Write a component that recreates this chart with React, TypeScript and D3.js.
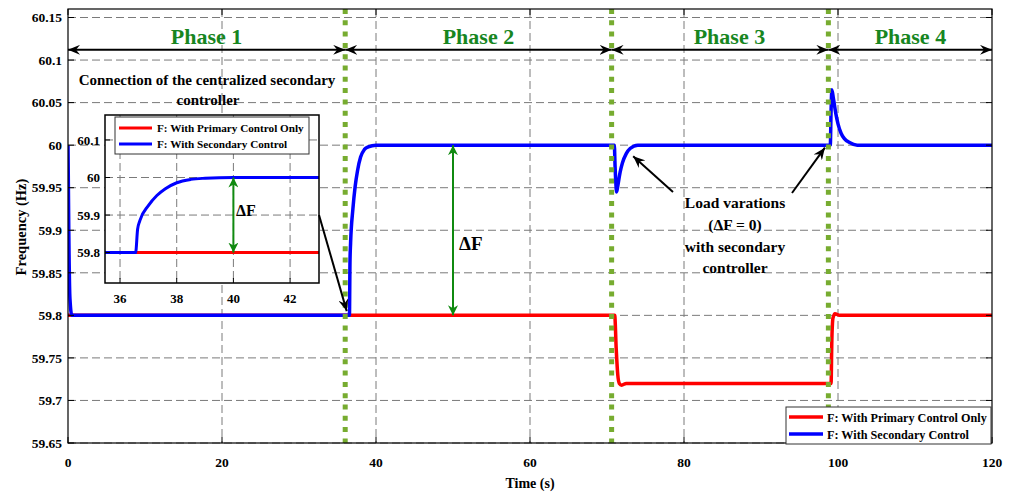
import React from 'react';
import * as d3 from 'd3';

const W = 1013, H = 493;

// ---------------- data ----------------
const xTicks = [0, 20, 40, 60, 80, 100, 120];
const yTicks = [59.65, 59.7, 59.75, 59.8, 59.85, 59.9, 59.95, 60, 60.05, 60.1, 60.15];
const yTickLabels = ['59.65', '59.7', '59.75', '59.8', '59.85', '59.9', '59.95', '60', '60.05', '60.1', '60.15'];

const primaryTime = [0, 71.0, 71.2, 71.4, 71.6, 71.9, 72.5, 99.1, 99.2, 99.35, 99.6, 100.2, 120];
const primaryFreq = [59.8, 59.8, 59.76, 59.73, 59.72, 59.718, 59.72, 59.72, 59.77, 59.797, 59.802, 59.8, 59.8];

const secondaryTime = [0, 0.1, 0.25, 0.5, 36.55, 36.62, 36.7, 37.0, 37.3, 37.6, 38.0, 38.5, 39.0, 40.0,
  70.95, 71.05, 71.15, 71.25, 71.4, 71.7, 72.0, 72.5, 73.0, 74.0,
  99.0, 99.1, 99.2, 99.4, 99.7, 100.0, 100.4, 100.8, 101.5, 102.5, 120];
const secondaryFreq = [60.0, 59.9, 59.82, 59.8, 59.8, 59.862, 59.885, 59.925, 59.952, 59.97, 59.986, 59.995, 59.998, 60.0,
  60.0, 59.975, 59.955, 59.945, 59.952, 59.968, 59.979, 59.99, 59.996, 60.0,
  60.0, 60.04, 60.065, 60.055, 60.038, 60.025, 60.014, 60.008, 60.003, 60.0, 60.0];

const phaseBounds = [0, 36, 70.6, 98.75, 120];
const phaseLabels = ['Phase 1', 'Phase 2', 'Phase 3', 'Phase 4'];
const phaseLabelTime = [18, 53.3, 85.9, 109.4];
const phaseArrowFreq = 60.112;

const insetXTicks = [36, 38, 40, 42];
const insetYTicks = [59.8, 59.9, 60, 60.1];
const insetYTickLabels = ['59.8', '59.9', '60', '60.1'];

const legendLabels = ['F: With Primary Control Only', 'F: With Secondary Control'];

// ---------------- style ----------------
const FONT = '"Liberation Serif", "Times New Roman", serif';
const RED = '#ff0000';
const BLUE = '#0000ff';
const PHASE_GREEN = '#17861f';
const DOT_GREEN = '#77ac30';
const GRID = '#7a7a7a';

export default function App() {
  const x = d3.scaleLinear().domain([0, 120]).range([68, 992]);
  const y = d3.scaleLinear().domain([59.65, 60.16]).range([443, 9]);

  const primary = primaryTime.map((t, i) => [t, primaryFreq[i]] as [number, number]);
  const secondary = secondaryTime.map((t, i) => [t, secondaryFreq[i]] as [number, number]);

  const line = d3.line<[number, number]>().x(d => x(d[0])).y(d => y(d[1])).curve(d3.curveMonotoneX);

  // inset
  const ix = d3.scaleLinear().domain([35.47, 43.02]).range([105, 319]);
  const iy = d3.scaleLinear().domain([59.719, 60.1665]).range([283, 115]);
  const iline = d3.line<[number, number]>().x(d => ix(d[0])).y(d => iy(d[1])).curve(d3.curveMonotoneX);

  const [x0, x1] = x.range();
  const [yb, yt] = y.range();
  const [ix0, ix1] = ix.range();
  const [iyb, iyt] = iy.range();

  const bold = { fontFamily: FONT, fontWeight: 700 } as const;

  return (
    <svg width={W} height={H} style={{ position: 'absolute', left: 0, top: 0, background: '#fff' }}>
      <defs>
        <marker id="ahBlack" viewBox="0 0 12 10" refX="12" refY="5" markerWidth="12" markerHeight="10"
          markerUnits="userSpaceOnUse" orient="auto-start-reverse">
          <path d="M0,0 L12,5 L0,10 L4,5 z" fill="#000" />
        </marker>
        <marker id="ahGreen" viewBox="0 0 10 10" refX="10" refY="5" markerWidth="10" markerHeight="10"
          markerUnits="userSpaceOnUse" orient="auto-start-reverse">
          <path d="M0,0 L10,5 L0,10 L3,5 z" fill="#108a10" />
        </marker>
        <clipPath id="mainClip"><rect x={x0} y={yt} width={x1 - x0} height={yb - yt} /></clipPath>
        <clipPath id="insetClip"><rect x={ix0} y={iyt} width={ix1 - ix0} height={iyb - iyt} /></clipPath>
      </defs>

      {/* grid */}
      {xTicks.slice(1, -1).map(t => (
        <line key={'gx' + t} x1={x(t)} x2={x(t)} y1={yt} y2={yb} stroke={GRID} strokeDasharray="8,4" strokeWidth={1} />
      ))}
      {yTicks.map(v => (
        <line key={'gy' + v} x1={x0} x2={x1} y1={y(v)} y2={y(v)} stroke={GRID} strokeDasharray="8,4" strokeWidth={1} />
      ))}

      {/* curves */}
      <g clipPath="url(#mainClip)">
        <path d={line(primary) || ''} fill="none" stroke={RED} strokeWidth={3.5} strokeLinejoin="round" />
        <path d={line(secondary) || ''} fill="none" stroke={BLUE} strokeWidth={3.5} strokeLinejoin="round" />
      </g>

      {/* phase dotted lines */}
      {phaseBounds.slice(1, -1).map(b => (
        <line key={'pb' + b} x1={x(b)} x2={x(b)} y1={yt} y2={yb} stroke={DOT_GREEN} strokeWidth={5} strokeDasharray="5,6.3" />
      ))}

      {/* phase arrows */}
      {phaseBounds.slice(0, -1).map((b, i) => (
        <line key={'pa' + i} x1={x(b)} x2={x(phaseBounds[i + 1])} y1={y(phaseArrowFreq)} y2={y(phaseArrowFreq)}
          stroke="#000" strokeWidth={2} markerStart="url(#ahBlack)" markerEnd="url(#ahBlack)" />
      ))}
      {phaseLabels.map((l, i) => (
        <text key={l} x={x(phaseLabelTime[i])} y={44} textAnchor="middle" fill={PHASE_GREEN} fontSize={22} {...bold}>{l}</text>
      ))}

      {/* axes box */}
      <rect x={x0} y={yt} width={x1 - x0} height={yb - yt} fill="none" stroke="#000" strokeWidth={1.2} />
      {xTicks.map(t => (
        <g key={'xt' + t}>
          <line x1={x(t)} x2={x(t)} y1={yb} y2={yb - 6} stroke="#000" />
          <line x1={x(t)} x2={x(t)} y1={yt} y2={yt + 6} stroke="#000" />
          <text x={x(t)} y={467} textAnchor="middle" fontSize={13.5} {...bold}>{t}</text>
        </g>
      ))}
      {yTicks.map((v, i) => (
        <g key={'yt' + v}>
          <line x1={x0} x2={x0 + 6} y1={y(v)} y2={y(v)} stroke="#000" />
          <line x1={x1} x2={x1 - 6} y1={y(v)} y2={y(v)} stroke="#000" />
          <text x={62} y={y(v)} dy="0.35em" textAnchor="end" fontSize={13.5} {...bold}>{yTickLabels[i]}</text>
        </g>
      ))}
      <text x={530} y={488} textAnchor="middle" fontSize={14} {...bold}>Time (s)</text>
      <text transform="translate(26,227) rotate(-90)" textAnchor="middle" fontSize={14.5} {...bold}>Frequency (Hz)</text>

      {/* main ΔF */}
      <line x1={x(50)} x2={x(50)} y1={y(60)} y2={y(59.8)} stroke="#108a10" strokeWidth={2}
        markerStart="url(#ahGreen)" markerEnd="url(#ahGreen)" />
      <text x={459} y={250} fontSize={19} {...bold}>ΔF</text>

      {/* annotation texts */}
      <text x={207} y={85} textAnchor="middle" fontSize={15} {...bold}>Connection of the centralized secondary</text>
      <text x={208} y={105} textAnchor="middle" fontSize={15} {...bold}>controller</text>

      <text x={735} y={208} textAnchor="middle" fontSize={15.5} {...bold}>Load varations</text>
      <text x={735} y={230} textAnchor="middle" fontSize={15.5} {...bold}>(ΔF = 0)</text>
      <text x={735} y={252} textAnchor="middle" fontSize={15.5} {...bold}>with secondary</text>
      <text x={735} y={273} textAnchor="middle" fontSize={15.5} {...bold}>controller</text>
      <line x1={673} y1={192} x2={x(73.4)} y2={y(59.987)} stroke="#000" strokeWidth={2} markerEnd="url(#ahBlack)" />
      <line x1={792} y1={193} x2={x(98.3)} y2={y(59.997)} stroke="#000" strokeWidth={2} markerEnd="url(#ahBlack)" />

      {/* inset */}
      <rect x={ix0} y={iyt} width={ix1 - ix0} height={iyb - iyt} fill="#fff" stroke="none" />
      {insetXTicks.map(t => (
        <line key={'igx' + t} x1={ix(t)} x2={ix(t)} y1={iyt} y2={iyb} stroke={GRID} strokeDasharray="8,4" />
      ))}
      {insetYTicks.map(v => (
        <line key={'igy' + v} x1={ix0} x2={ix1} y1={iy(v)} y2={iy(v)} stroke={GRID} strokeDasharray="8,4" />
      ))}
      <g clipPath="url(#insetClip)">
        <path d={iline(primary) || ''} fill="none" stroke={RED} strokeWidth={3} />
        <path d={iline(secondary) || ''} fill="none" stroke={BLUE} strokeWidth={3} />
      </g>
      <line x1={ix(40)} x2={ix(40)} y1={iy(60)} y2={iy(59.8)} stroke="#108a10" strokeWidth={2}
        markerStart="url(#ahGreen)" markerEnd="url(#ahGreen)" />
      <text x={236} y={216} fontSize={16} {...bold}>ΔF</text>
      <rect x={ix0} y={iyt} width={ix1 - ix0} height={iyb - iyt} fill="none" stroke="#000" strokeWidth={1.5} />
      {insetXTicks.map(t => (
        <g key={'ixt' + t}>
          <line x1={ix(t)} x2={ix(t)} y1={iyb} y2={iyb - 5} stroke="#000" />
          <text x={ix(t)} y={303} textAnchor="middle" fontSize={13} {...bold}>{t}</text>
        </g>
      ))}
      {insetYTicks.map((v, i) => (
        <g key={'iyt' + v}>
          <line x1={ix0} x2={ix0 + 5} y1={iy(v)} y2={iy(v)} stroke="#000" />
          <text x={100} y={iy(v)} dy="0.35em" textAnchor="end" fontSize={13} {...bold}>{insetYTickLabels[i]}</text>
        </g>
      ))}
      {/* inset legend */}
      <rect x={115} y={117} width={194} height={37} fill="#fff" stroke="#333" strokeWidth={1} />
      <line x1={119} x2={152} y1={128} y2={128} stroke={RED} strokeWidth={3} />
      <line x1={119} x2={152} y1={144} y2={144} stroke={BLUE} strokeWidth={3} />
      <text x={157} y={132} fontSize={11.2} {...bold}>{legendLabels[0]}</text>
      <text x={157} y={148} fontSize={11.2} {...bold}>{legendLabels[1]}</text>

      {/* arrow from inset */}
      <line x1={ix1} y1={iy(59.9)} x2={x(36.2)} y2={y(59.805)} stroke="#000" strokeWidth={2} markerEnd="url(#ahBlack)" />

      {/* main legend */}
      <rect x={786} y={407} width={205} height={37} fill="#fff" stroke="#333" strokeWidth={1} />
      <line x1={789} x2={823} y1={417} y2={417} stroke={RED} strokeWidth={3.5} />
      <line x1={789} x2={823} y1={434} y2={434} stroke={BLUE} strokeWidth={3.5} />
      <text x={827} y={421.5} fontSize={12.2} {...bold}>{legendLabels[0]}</text>
      <text x={827} y={438.5} fontSize={12.2} {...bold}>{legendLabels[1]}</text>
    </svg>
  );
}
